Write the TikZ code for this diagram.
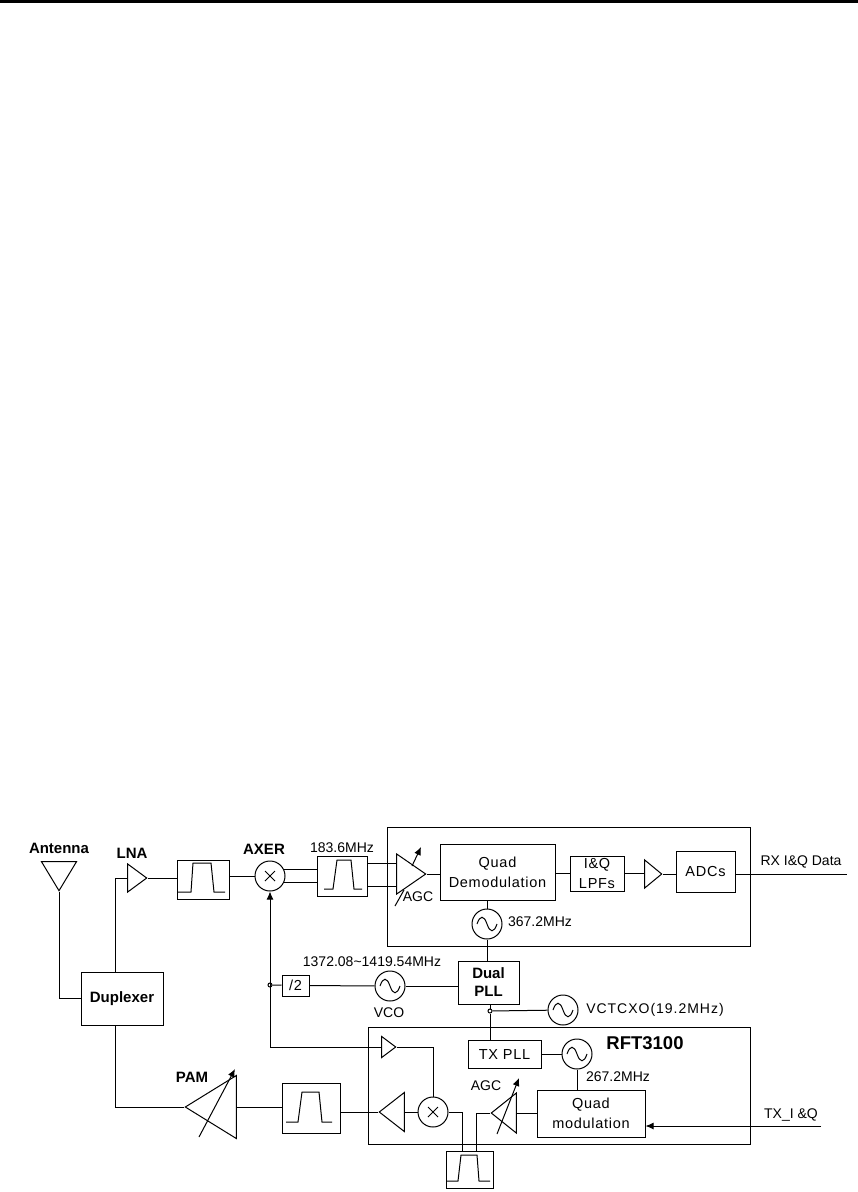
\documentclass[tikz,border=0pt]{standalone}
\usepackage{fontspec}
\setmainfont{Liberation Sans}
\usetikzlibrary{arrows.meta,shapes.geometric}
\tikzset{
  box/.style={draw, inner sep=0pt, align=center, font=\fontsize{14.5}{20}\selectfont\addfontfeature{LetterSpace=5}},
  bbox/.style={draw, inner sep=0pt, align=center, font=\fontsize{15}{18}\selectfont\bfseries},
  lbl/.style={inner sep=0pt, font=\fontsize{14}{16}\selectfont},
  blbl/.style={inner sep=0pt, font=\fontsize{15}{16}\selectfont\bfseries},
  amp/.style={draw, isosceles triangle, isosceles triangle stretches, inner sep=0pt},
  osc/.style={draw, circle, inner sep=0pt, minimum size=30pt,
    path picture={\draw (-10,0) .. controls (-7,-9) and (-3,-9) .. (0,0) .. controls (3,9) and (7,9) .. (10,0);}},
  mixer/.style={draw, circle, inner sep=0pt, minimum size=30pt,
    path picture={\draw (-5,-5)--(5,5) (-5,5)--(5,-5);}},
  dot/.style={draw, circle, fill=white, inner sep=0pt, minimum size=4pt},
  tip/.style={-{Latex[length=8pt,width=7pt]}}
}
\begin{document}
\begin{tikzpicture}[x=1pt, y=-1pt, line width=1pt]
  \useasboundingbox (0,0) rectangle (858,1192);
  \fill (0,0) rectangle (858,3);

  % rx chain
  \node[draw, minimum width=363pt, minimum height=119pt, inner sep=0pt] (rxchip) at (568.5,886.5) {};
  \node[draw, isosceles triangle, isosceles triangle stretches, shape border rotate=-90, inner sep=0pt,
        minimum width=35pt, minimum height=29pt, anchor=apex] (antenna) at (59,892) {};
  \node[amp, minimum width=28pt, minimum height=19pt, anchor=apex] (lna) at (148,878) {};
  \node[draw, minimum width=52pt, minimum height=39pt] (filterA) at (203,879.5) {};
  \node[mixer] (mixerA) at (270,876) {};
  \node[draw, minimum width=50pt, minimum height=40pt] (filterB) at (342,876) {};
  \node[amp, minimum width=40pt, minimum height=29pt, anchor=apex] (agcA) at (427,874) {};
  \node[box, minimum width=115pt, minimum height=56pt] (demod) at (497.5,872) {Quad\\Demodulation};
  \node[box, minimum width=54pt, minimum height=35pt] (lpf) at (597,873.5) {I\&Q\\LPFs};
  \node[amp, minimum width=28pt, minimum height=17pt, anchor=apex] (buffer) at (663,874) {};
  \node[box, minimum width=59pt, minimum height=41pt] (adc) at (705.5,871.5) {ADCs};
  \node[osc] (oscA) at (487,924) {};
  \coordinate (rxout) at (847,874);

  % synth
  \node[bbox, minimum width=82pt, minimum height=53pt] (duplexer) at (122,998.5) {Duplexer};
  \node[bbox, minimum width=61pt, minimum height=43pt] (pll) at (488.5,982.5) {Dual\\PLL};
  \node[osc] (vco) at (390,986) {};
  \node[box, minimum width=27pt, minimum height=21pt] (divider) at (295.5,985.5) {/2};
  \node[osc] (tcxo) at (563,1010) {};
  \node[dot] (split) at (490,1011) {};

  % tx chain
  \node[draw, minimum width=382pt, minimum height=117pt, inner sep=0pt] (txchip) at (559,1085.5) {};
  \node[box, minimum width=73pt, minimum height=28pt] (txpll) at (504.5,1054) {TX PLL};
  \node[osc] (oscB) at (577,1054) {};
  \node[box, minimum width=108pt, minimum height=47pt] (mod) at (591,1113.5) {Quad\\modulation};
  \node[amp, shape border rotate=180, minimum width=40pt, minimum height=25pt, anchor=apex] (agcB) at (490,1113) {};
  \node[mixer] (mixerB) at (433,1112) {};
  \node[amp, shape border rotate=180, minimum width=39pt, minimum height=25pt, anchor=apex] (drv) at (378,1112) {};
  \node[amp, minimum width=21pt, minimum height=14pt, anchor=apex] (buftx) at (397,1047) {};
  \node[draw, minimum width=58pt, minimum height=50pt] (filterC) at (311,1108) {};
  \node[draw, minimum width=47pt, minimum height=37pt] (filterD) at (469.5,1169.5) {};
  \node[amp, shape border rotate=180, minimum width=63pt, minimum height=51pt, anchor=apex] (pam) at (184,1107) {};
  \coordinate (txin) at (821,1126);
  \node[dot] (tap) at (270,985) {};

  % passbands
  \draw (178,892)--(191,892)--(193,863)--(211,863)--(214,892)--(225,892);
  \draw (324,889)--(333,889)--(337,860)--(351,860)--(354,889)--(362,889);
  \draw (286,1122)--(298,1122)--(302,1092)--(319,1092)--(322,1122)--(332,1122);
  \draw (446,1181)--(458,1181)--(461,1155)--(477,1155)--(479,1181)--(490,1181);

  % connectors
  \draw (antenna.apex) |- (duplexer.west);
  \draw (duplexer.north -| 115,0) |- (lna.lower side);
  \draw (lna.apex) -- (lna.apex -| filterA.west);
  \draw (filterA.east |- mixerA.west) -- (mixerA.west);
  \draw (mixerA.24) -- (mixerA.24 -| filterB.west);
  \draw (mixerA.-24) -- (mixerA.-24 -| filterB.west);
  \draw (filterB.east |- 0,863) -- (agcA.lower side |- 0,863);
  \draw (filterB.east |- 0,886) -- (agcA.lower side |- 0,886);
  \draw (agcA.apex) -- (agcA.apex -| demod.west);
  \draw (demod.east |- lpf.west) -- (lpf.west);
  \draw (lpf.east) -- (lpf.east -| buffer.lower side);
  \draw (buffer.apex) -- (buffer.apex -| adc.west);
  \draw (adc.east |- rxout) -- (rxout);
  \draw (demod.south -| oscA) -- (oscA);
  \draw (oscA) -- (oscA |- pll.north);
  \draw (divider) -- (vco);
  \draw (vco) -- (vco -| pll.west);
  \draw (divider) -- (tap);
  \draw (pll.south -| split) -- (split) -- (split |- txpll.north);
  \draw (split) -- (tcxo);
  \draw (txpll.east |- oscB) -- (oscB);
  \draw (oscB) -- (oscB |- mod.north);
  \draw[tip] (txin) -- (txin -| mod.east);
  \draw (mod.west |- agcB.lower side) -- (agcB.lower side);
  \draw (buftx.apex) -| (mixerB);
  \draw[tip] (buftx.lower side) -| (mixerA.south);
  \draw (mixerB.west) -- (drv.lower side);
  \draw (drv.apex) -- (drv.apex -| filterC.east);
  \draw (filterC.west |- pam.lower side) -- (pam.lower side);
  \draw (pam.apex) -| (duplexer.south -| 115,0);
  \draw (mixerB.east) -| (462,1151);
  \draw (agcB.apex) -| (476,1151);

  % gain arrows
  \draw[tip] (412,866) -- (421,847);
  \draw (395,906) -- (404,890);
  \draw[tip] (497,1134) -- (519,1078);
  \draw[tip] (199,1137) -- (235,1069);

  % labels
  \node[blbl] (antennalbl) at (59,848) {Antenna};
  \node[blbl] (lnalbl) at (132,853) {LNA};
  \node[blbl] (axerlbl) at (264,849) {AXER};
  \node[blbl] (pamlbl) at (192,1077) {PAM};
  \node[lbl] (iflbl) at (342,848) {183.6MHz};
  \node[lbl] (agclblA) at (418,897) {AGC};
  \node[lbl] (rxlbl) at (801,862) {RX I\&Q Data};
  \node[lbl] (osclblA) at (540,922) {367.2MHz};
  \node[lbl] (vcofreq) at (372,962) {1372.08\textasciitilde1419.54MHz};
  \node[lbl] (vcolbl) at (389,1013) {VCO};
  \node[lbl, font=\fontsize{14}{16}\selectfont\addfontfeature{LetterSpace=7}] (tcxolbl) at (655,1010) {VCTCXO(19.2MHz)};
  \node[inner sep=0pt, font=\fontsize{18.5}{20}\selectfont\bfseries] (chiplbl) at (645,1043) {RFT3100};
  \node[lbl] (osclblB) at (618,1077) {267.2MHz};
  \node[lbl] (agclblB) at (486,1086) {AGC};
  \node[lbl] (txlbl) at (791,1115) {TX\_I \&Q};
\end{tikzpicture}
\end{document}
